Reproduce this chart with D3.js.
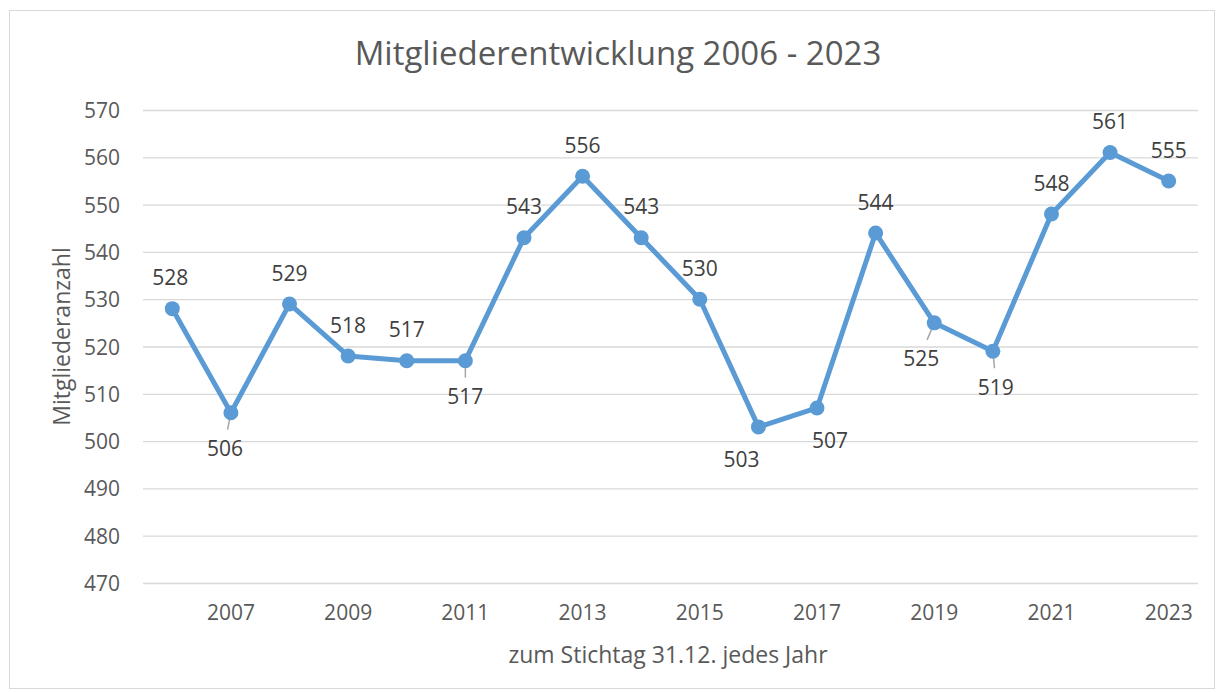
<!DOCTYPE html>
<html><head><meta charset="utf-8">
<script src="https://cdn.jsdelivr.net/npm/d3@7"></script>
<style>body{margin:0;background:#fff;} text{font-family:"Open Sans","Noto Sans",sans-serif;}</style>
</head><body>
<svg id="c" width="1221" height="692"></svg>
<script>
const years = [2006,2007,2008,2009,2010,2011,2012,2013,2014,2015,2016,2017,2018,2019,2020,2021,2022,2023];
const members = [528,506,529,518,517,517,543,556,543,530,503,507,544,525,519,548,561,555];
const yTicks = [470,480,490,500,510,520,530,540,550,560,570];
const xTickLabels = [2007,2009,2011,2013,2015,2017,2019,2021,2023];
const labelSide = ['above','below','above','above','above','below','above','above','above','above','below','below','above','below','below','above','above','above'];
const labelDx = [-2,-6,0,0,0,0,0,0,0,0,-17,13,0,-13,3,0,0,0];
const leader = [false,true,false,false,false,true,false,false,false,false,false,false,false,true,true,false,false,false];
const title = 'Mitgliederentwicklung 2006 - 2023';
const xTitle = 'zum Stichtag 31.12. jedes Jahr';
const yTitle = 'Mitgliederanzahl';

const svg = d3.select('#c');
svg.append('rect').attr('x',9.5).attr('y',10.5).attr('width',1205).attr('height',678)
  .attr('fill','#fff').attr('stroke','#d9d9d9');

const L=143, R=1198, T=110, B=583;
const x = d3.scaleBand().domain(years).range([L,R]);
const y = d3.scaleLinear().domain([470,570]).range([B,T]);
const cx = d => x(d)+x.bandwidth()/2;

const grid = svg.append('g');
grid.selectAll('line').data(yTicks).join('line')
  .attr('x1',L).attr('x2',R).attr('y1',d=>y(d)+0.5).attr('y2',d=>y(d)+0.5)
  .attr('stroke','#d9d9d9').attr('stroke-width',1.3);

const yAxis = d3.axisLeft(y).tickValues(yTicks).tickSize(0).tickPadding(0);
const ya = svg.append('g').attr('transform',`translate(${L-23},0)`).call(yAxis);
ya.select('.domain').remove();
ya.selectAll('text').attr('fill','#595959').style('font-size','21px').attr('dy','0.36em');

const xAxis = d3.axisBottom(x).tickValues(xTickLabels).tickSize(0).tickPadding(0);
const xa = svg.append('g').attr('transform',`translate(0,${B+22})`).call(xAxis);
xa.select('.domain').remove();
xa.selectAll('text').attr('fill','#595959').style('font-size','21px').attr('dy','0.71em');

svg.append('text').attr('x',618).attr('y',56).attr('text-anchor','middle')
  .attr('dominant-baseline','middle').attr('fill','#595959').style('font-size','33px').text(title);
svg.append('text').attr('x',668).attr('y',657).attr('text-anchor','middle')
  .attr('dominant-baseline','middle').attr('fill','#595959').style('font-size','23px').text(xTitle);
svg.append('text').attr('transform',`translate(64,${(T+B)/2-10}) rotate(-90)`).attr('text-anchor','middle')
  .attr('dominant-baseline','middle').attr('fill','#595959').style('font-size','23px').text(yTitle);

const data = years.map((yr,i)=>({yr, v:members[i], side:labelSide[i], dx:labelDx[i], lead:leader[i]}));

// leader lines
svg.append('g').selectAll('line').data(data.filter(d=>d.lead)).join('line')
  .attr('x1',d=>cx(d.yr)).attr('y1',d=>y(d.v))
  .attr('x2',d=>cx(d.yr)+d.dx*0.55).attr('y2',d=>y(d.v)+17)
  .attr('stroke','#a6a6a6').attr('stroke-width',1.5);

const line = d3.line().x(d=>cx(d.yr)).y(d=>y(d.v));
svg.append('path').datum(data).attr('d',line).attr('fill','none')
  .attr('stroke','#5B9BD5').attr('stroke-width',5).attr('stroke-linejoin','round');
svg.append('g').selectAll('circle').data(data).join('circle')
  .attr('cx',d=>cx(d.yr)).attr('cy',d=>y(d.v)).attr('r',7.5).attr('fill','#5B9BD5');

svg.append('g').selectAll('text').data(data).join('text')
  .attr('x',d=>cx(d.yr)+d.dx).attr('y',d=>y(d.v)+(d.side==='above'?-29:(d.lead?38:34)))
  .attr('text-anchor','middle').attr('dominant-baseline','middle')
  .attr('fill','#404040').style('font-size','21px').text(d=>d.v);
</script>
</body></html>
